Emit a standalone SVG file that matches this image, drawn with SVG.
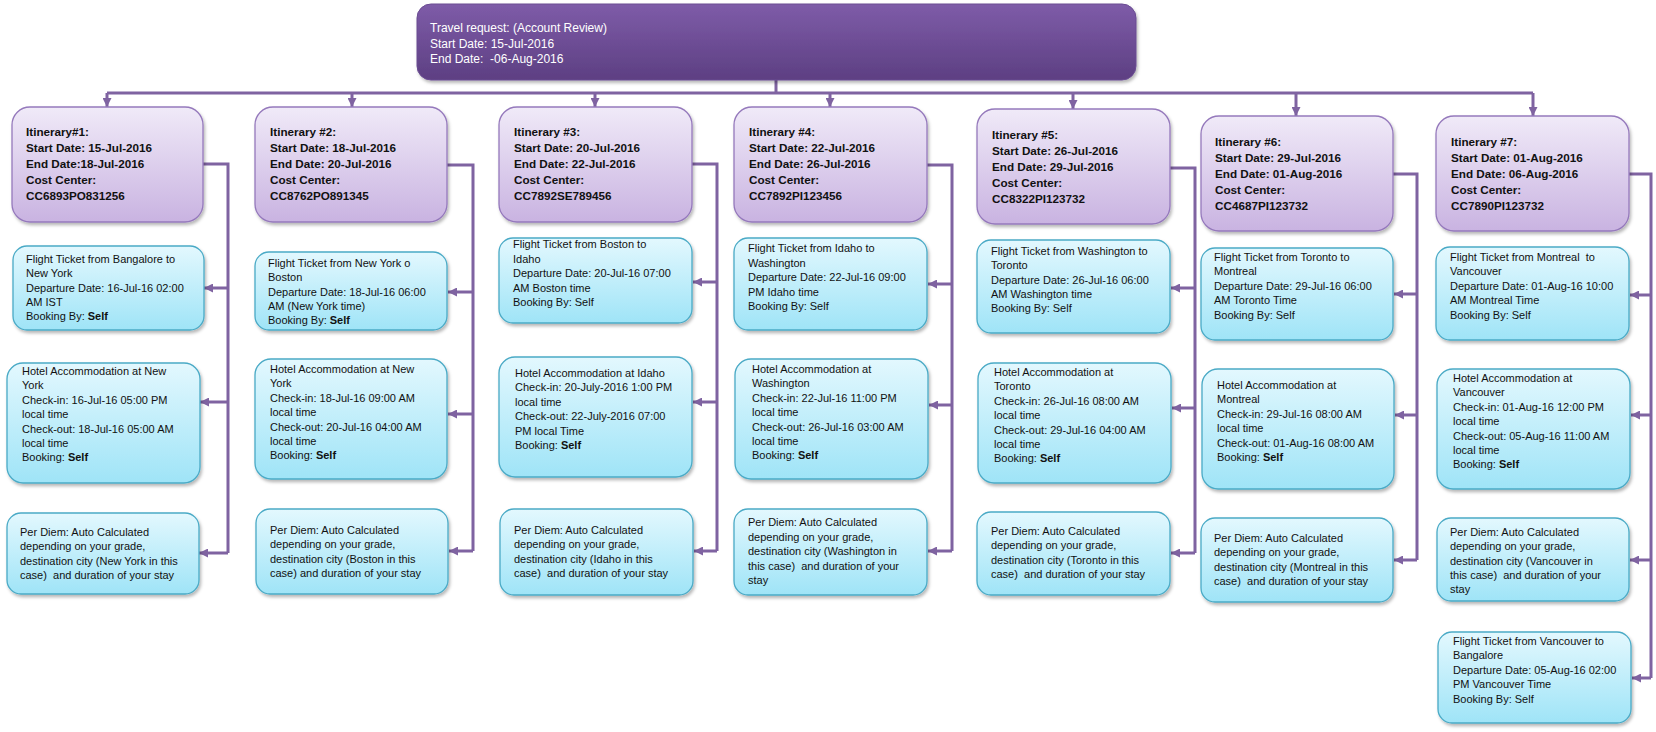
<svg xmlns="http://www.w3.org/2000/svg" width="1656" height="732" viewBox="0 0 1656 732">
<defs>
<linearGradient id="gTop" x1="0" y1="0" x2="0" y2="1"><stop offset="0" stop-color="#7E5CA8"/><stop offset="1" stop-color="#5D3F82"/></linearGradient>
<linearGradient id="gItin" x1="0" y1="0" x2="0" y2="1"><stop offset="0" stop-color="#F0EAF8"/><stop offset="1" stop-color="#C9B3E1"/></linearGradient>
<linearGradient id="gChild" x1="0" y1="0" x2="0" y2="1"><stop offset="0" stop-color="#E3F8FE"/><stop offset="1" stop-color="#9FE4F7"/></linearGradient>
<filter id="sh" x="-10%" y="-10%" width="130%" height="130%"><feDropShadow dx="1.5" dy="2.5" stdDeviation="1.8" flood-color="#000" flood-opacity="0.28"/></filter>
<marker id="ah" viewBox="0 0 10 10" refX="10" refY="5" markerWidth="9" markerHeight="9" markerUnits="userSpaceOnUse" orient="auto"><path d="M0,0 L10,5 L0,10 z" fill="#7F63A1"/></marker>
</defs>
<style>
.top{fill:url(#gTop);stroke:#6A4C92;stroke-width:1;filter:url(#sh)}
.itin{fill:url(#gItin);stroke:#9579BC;stroke-width:1.3;filter:url(#sh)}
.child{fill:url(#gChild);stroke:#4AAAC6;stroke-width:1.3;filter:url(#sh)}
text{font-family:"Liberation Sans",Arial,sans-serif;fill:#111}
.tt{font-size:12px;fill:#fff}
.bt{font-size:11.7px;font-weight:bold}
.ct{font-size:11px}
.b{font-weight:bold}
.con path{fill:none;stroke:#7F63A1;stroke-width:3}
.con .ar{marker-end:url(#ah)}
</style>

<g class="con" id="connectors">
<path d="M776,80 V93"/>
<path d="M107,93 H1533"/>
<path class="ar" d="M107,93 V107"/>
<path class="ar" d="M352,93 V107"/>
<path class="ar" d="M595,93 V107"/>
<path class="ar" d="M830,93 V107"/>
<path class="ar" d="M1073,93 V109"/>
<path class="ar" d="M1296,93 V116"/>
<path class="ar" d="M1533,93 V116"/>

<path d="M203,164 H228 V553"/>
<path class="ar" d="M228,288 H204"/>
<path class="ar" d="M228,402 H200"/>
<path class="ar" d="M228,553 H199"/>

<path d="M447,165 H473 V551"/>
<path class="ar" d="M473,292 H448"/>
<path class="ar" d="M473,414 H448"/>
<path class="ar" d="M473,551 H449"/>

<path d="M692,164 H717 V551"/>
<path class="ar" d="M717,282 H693"/>
<path class="ar" d="M717,402 H693"/>
<path class="ar" d="M717,551 H694"/>

<path d="M927,165 H952 V551"/>
<path class="ar" d="M952,284 H928"/>
<path class="ar" d="M952,405 H929"/>
<path class="ar" d="M952,551 H928"/>

<path d="M1170,168 H1195 V553"/>
<path class="ar" d="M1195,288 H1171"/>
<path class="ar" d="M1195,408 H1172"/>
<path class="ar" d="M1195,553 H1171"/>

<path d="M1393,174 H1417 V560"/>
<path class="ar" d="M1417,294 H1394"/>
<path class="ar" d="M1417,415 H1395"/>
<path class="ar" d="M1417,560 H1394"/>

<path d="M1629,174 H1651 V678"/>
<path class="ar" d="M1651,295 H1630"/>
<path class="ar" d="M1651,415 H1631"/>
<path class="ar" d="M1651,560 H1630"/>
<path class="ar" d="M1651,678 H1632"/>
</g>

<g id="travel-request">
<rect class="top" x="417" y="4" width="719" height="76" rx="14"/>
<text class="tt" x="430" y="32" xml:space="preserve"><tspan x="430">Travel request: (Account Review)</tspan><tspan x="430" dy="15.7">Start Date: 15-Jul-2016</tspan><tspan x="430" dy="15.7">End Date:  -06-Aug-2016</tspan></text>
</g>

<g id="itinerary-1">
<rect class="itin" x="12" y="107" width="191" height="115" rx="18"/>
<text class="bt" x="26" y="136"><tspan x="26">Itinerary#1:</tspan><tspan x="26" dy="16">Start Date: 15-Jul-2016</tspan><tspan x="26" dy="16">End Date:18-Jul-2016</tspan><tspan x="26" dy="16">Cost Center:</tspan><tspan x="26" dy="16">CC6893PO831256</tspan></text>
</g>
<g id="itinerary-2">
<rect class="itin" x="255" y="107" width="192" height="115" rx="18"/>
<text class="bt" x="270" y="136"><tspan x="270">Itinerary #2:</tspan><tspan x="270" dy="16">Start Date: 18-Jul-2016</tspan><tspan x="270" dy="16">End Date: 20-Jul-2016</tspan><tspan x="270" dy="16">Cost Center:</tspan><tspan x="270" dy="16">CC8762PO891345</tspan></text>
</g>
<g id="itinerary-3">
<rect class="itin" x="499" y="107" width="193" height="115" rx="18"/>
<text class="bt" x="514" y="136"><tspan x="514">Itinerary #3:</tspan><tspan x="514" dy="16">Start Date: 20-Jul-2016</tspan><tspan x="514" dy="16">End Date: 22-Jul-2016</tspan><tspan x="514" dy="16">Cost Center:</tspan><tspan x="514" dy="16">CC7892SE789456</tspan></text>
</g>
<g id="itinerary-4">
<rect class="itin" x="734" y="107" width="193" height="115" rx="18"/>
<text class="bt" x="749" y="136"><tspan x="749">Itinerary #4:</tspan><tspan x="749" dy="16">Start Date: 22-Jul-2016</tspan><tspan x="749" dy="16">End Date: 26-Jul-2016</tspan><tspan x="749" dy="16">Cost Center:</tspan><tspan x="749" dy="16">CC7892PI123456</tspan></text>
</g>
<g id="itinerary-5">
<rect class="itin" x="977" y="109" width="193" height="115" rx="18"/>
<text class="bt" x="992" y="139"><tspan x="992">Itinerary #5:</tspan><tspan x="992" dy="16">Start Date: 26-Jul-2016</tspan><tspan x="992" dy="16">End Date: 29-Jul-2016</tspan><tspan x="992" dy="16">Cost Center:</tspan><tspan x="992" dy="16">CC8322PI123732</tspan></text>
</g>
<g id="itinerary-6">
<rect class="itin" x="1201" y="116" width="192" height="115" rx="18"/>
<text class="bt" x="1215" y="146"><tspan x="1215">Itinerary #6:</tspan><tspan x="1215" dy="16">Start Date: 29-Jul-2016</tspan><tspan x="1215" dy="16">End Date: 01-Aug-2016</tspan><tspan x="1215" dy="16">Cost Center:</tspan><tspan x="1215" dy="16">CC4687PI123732</tspan></text>
</g>
<g id="itinerary-7">
<rect class="itin" x="1436" y="116" width="193" height="115" rx="18"/>
<text class="bt" x="1451" y="146"><tspan x="1451">Itinerary #7:</tspan><tspan x="1451" dy="16">Start Date: 01-Aug-2016</tspan><tspan x="1451" dy="16">End Date: 06-Aug-2016</tspan><tspan x="1451" dy="16">Cost Center:</tspan><tspan x="1451" dy="16">CC7890PI123732</tspan></text>
</g>

<g id="flight-1">
<rect class="child" x="13" y="246" width="191" height="84" rx="14"/>
<text class="ct" x="26" y="263"><tspan x="26">Flight Ticket from Bangalore to</tspan><tspan x="26" dy="14.3">New York</tspan><tspan x="26" dy="14.3">Departure Date: 16-Jul-16 02:00</tspan><tspan x="26" dy="14.3">AM IST</tspan><tspan x="26" dy="14.3">Booking By: <tspan class="b">Self</tspan></tspan></text>
</g>
<g id="hotel-1">
<rect class="child" x="7" y="363" width="193" height="120" rx="16"/>
<text class="ct" x="22" y="375"><tspan x="22">Hotel Accommodation at New</tspan><tspan x="22" dy="14.4">York</tspan><tspan x="22" dy="14.4">Check-in: 16-Jul-16 05:00 PM</tspan><tspan x="22" dy="14.4">local time</tspan><tspan x="22" dy="14.4">Check-out: 18-Jul-16 05:00 AM</tspan><tspan x="22" dy="14.4">local time</tspan><tspan x="22" dy="14.4">Booking: <tspan class="b">Self</tspan></tspan></text>
</g>
<g id="perdiem-1">
<rect class="child" x="7" y="513" width="192" height="81" rx="14"/>
<text class="ct" x="20" y="536"><tspan x="20">Per Diem: Auto Calculated</tspan><tspan x="20" dy="14.3">depending on your grade,</tspan><tspan x="20" dy="14.3">destination city (New York in this</tspan><tspan x="20" dy="14.3" xml:space="preserve">case)  and duration of your stay</tspan></text>
</g>

<g id="flight-2">
<rect class="child" x="255" y="252" width="192" height="78" rx="14"/>
<text class="ct" x="268" y="267"><tspan x="268">Flight Ticket from New York o</tspan><tspan x="268" dy="14.3">Boston</tspan><tspan x="268" dy="14.3">Departure Date: 18-Jul-16 06:00</tspan><tspan x="268" dy="14.3">AM (New York time)</tspan><tspan x="268" dy="14.3">Booking By: <tspan class="b">Self</tspan></tspan></text>
</g>
<g id="hotel-2">
<rect class="child" x="255" y="359" width="192" height="120" rx="16"/>
<text class="ct" x="270" y="373"><tspan x="270">Hotel Accommodation at New</tspan><tspan x="270" dy="14.4">York</tspan><tspan x="270" dy="14.4">Check-in: 18-Jul-16 09:00 AM</tspan><tspan x="270" dy="14.4">local time</tspan><tspan x="270" dy="14.4">Check-out: 20-Jul-16 04:00 AM</tspan><tspan x="270" dy="14.4">local time</tspan><tspan x="270" dy="14.4">Booking: <tspan class="b">Self</tspan></tspan></text>
</g>
<g id="perdiem-2">
<rect class="child" x="256" y="509" width="192" height="85" rx="14"/>
<text class="ct" x="270" y="534"><tspan x="270">Per Diem: Auto Calculated</tspan><tspan x="270" dy="14.3">depending on your grade,</tspan><tspan x="270" dy="14.3">destination city (Boston in this</tspan><tspan x="270" dy="14.3">case) and duration of your stay</tspan></text>
</g>

<g id="flight-3">
<rect class="child" x="499" y="238" width="193" height="85" rx="14"/>
<text class="ct" x="513" y="248"><tspan x="513">Flight Ticket from Boston to</tspan><tspan x="513" dy="14.5">Idaho</tspan><tspan x="513" dy="14.5">Departure Date: 20-Jul-16 07:00</tspan><tspan x="513" dy="14.5">AM Boston time</tspan><tspan x="513" dy="14.5">Booking By: Self</tspan></text>
</g>
<g id="hotel-3">
<rect class="child" x="499" y="357" width="193" height="120" rx="16"/>
<text class="ct" x="515" y="377"><tspan x="515">Hotel Accommodation at Idaho</tspan><tspan x="515" dy="14.4">Check-in: 20-July-2016 1:00 PM</tspan><tspan x="515" dy="14.4">local time</tspan><tspan x="515" dy="14.4">Check-out: 22-July-2016 07:00</tspan><tspan x="515" dy="14.4">PM local Time</tspan><tspan x="515" dy="14.4">Booking: <tspan class="b">Self</tspan></tspan></text>
</g>
<g id="perdiem-3">
<rect class="child" x="500" y="509" width="193" height="86" rx="14"/>
<text class="ct" x="514" y="534"><tspan x="514">Per Diem: Auto Calculated</tspan><tspan x="514" dy="14.3">depending on your grade,</tspan><tspan x="514" dy="14.3">destination city (Idaho in this</tspan><tspan x="514" dy="14.3" xml:space="preserve">case)  and duration of your stay</tspan></text>
</g>

<g id="flight-4">
<rect class="child" x="734" y="238" width="193" height="92" rx="14"/>
<text class="ct" x="748" y="252"><tspan x="748">Flight Ticket from Idaho to</tspan><tspan x="748" dy="14.5">Washington</tspan><tspan x="748" dy="14.5">Departure Date: 22-Jul-16 09:00</tspan><tspan x="748" dy="14.5">PM Idaho time</tspan><tspan x="748" dy="14.5">Booking By: Self</tspan></text>
</g>
<g id="hotel-4">
<rect class="child" x="735" y="359" width="193" height="120" rx="16"/>
<text class="ct" x="752" y="373"><tspan x="752">Hotel Accommodation at</tspan><tspan x="752" dy="14.4">Washington</tspan><tspan x="752" dy="14.4">Check-in: 22-Jul-16 11:00 PM</tspan><tspan x="752" dy="14.4">local time</tspan><tspan x="752" dy="14.4">Check-out: 26-Jul-16 03:00 AM</tspan><tspan x="752" dy="14.4">local time</tspan><tspan x="752" dy="14.4">Booking: <tspan class="b">Self</tspan></tspan></text>
</g>
<g id="perdiem-4">
<rect class="child" x="734" y="509" width="193" height="86" rx="14"/>
<text class="ct" x="748" y="526"><tspan x="748">Per Diem: Auto Calculated</tspan><tspan x="748" dy="14.5">depending on your grade,</tspan><tspan x="748" dy="14.5">destination city (Washington in</tspan><tspan x="748" dy="14.5" xml:space="preserve">this case)  and duration of your</tspan><tspan x="748" dy="14.5">stay</tspan></text>
</g>

<g id="flight-5">
<rect class="child" x="977" y="240" width="193" height="93" rx="14"/>
<text class="ct" x="991" y="255"><tspan x="991">Flight Ticket from Washington to</tspan><tspan x="991" dy="14.3">Toronto</tspan><tspan x="991" dy="14.3">Departure Date: 26-Jul-16 06:00</tspan><tspan x="991" dy="14.3">AM Washington time</tspan><tspan x="991" dy="14.3">Booking By: Self</tspan></text>
</g>
<g id="hotel-5">
<rect class="child" x="978" y="363" width="193" height="120" rx="16"/>
<text class="ct" x="994" y="376"><tspan x="994">Hotel Accommodation at</tspan><tspan x="994" dy="14.4">Toronto</tspan><tspan x="994" dy="14.4">Check-in: 26-Jul-16 08:00 AM</tspan><tspan x="994" dy="14.4">local time</tspan><tspan x="994" dy="14.4">Check-out: 29-Jul-16 04:00 AM</tspan><tspan x="994" dy="14.4">local time</tspan><tspan x="994" dy="14.4">Booking: <tspan class="b">Self</tspan></tspan></text>
</g>
<g id="perdiem-5">
<rect class="child" x="977" y="512" width="193" height="83" rx="14"/>
<text class="ct" x="991" y="535"><tspan x="991">Per Diem: Auto Calculated</tspan><tspan x="991" dy="14.3">depending on your grade,</tspan><tspan x="991" dy="14.3">destination city (Toronto in this</tspan><tspan x="991" dy="14.3" xml:space="preserve">case)  and duration of your stay</tspan></text>
</g>

<g id="flight-6">
<rect class="child" x="1201" y="248" width="192" height="92" rx="14"/>
<text class="ct" x="1214" y="261"><tspan x="1214">Flight Ticket from Toronto to</tspan><tspan x="1214" dy="14.4">Montreal</tspan><tspan x="1214" dy="14.4">Departure Date: 29-Jul-16 06:00</tspan><tspan x="1214" dy="14.4">AM Toronto Time</tspan><tspan x="1214" dy="14.4">Booking By: Self</tspan></text>
</g>
<g id="hotel-6">
<rect class="child" x="1202" y="369" width="192" height="120" rx="16"/>
<text class="ct" x="1217" y="389"><tspan x="1217">Hotel Accommodation at</tspan><tspan x="1217" dy="14.4">Montreal</tspan><tspan x="1217" dy="14.4">Check-in: 29-Jul-16 08:00 AM</tspan><tspan x="1217" dy="14.4">local time</tspan><tspan x="1217" dy="14.4">Check-out: 01-Aug-16 08:00 AM</tspan><tspan x="1217" dy="14.4">Booking: <tspan class="b">Self</tspan></tspan></text>
</g>
<g id="perdiem-6">
<rect class="child" x="1201" y="518" width="192" height="84" rx="14"/>
<text class="ct" x="1214" y="542"><tspan x="1214">Per Diem: Auto Calculated</tspan><tspan x="1214" dy="14.3">depending on your grade,</tspan><tspan x="1214" dy="14.3">destination city (Montreal in this</tspan><tspan x="1214" dy="14.3" xml:space="preserve">case)  and duration of your stay</tspan></text>
</g>

<g id="flight-7">
<rect class="child" x="1436" y="247" width="193" height="93" rx="14"/>
<text class="ct" x="1450" y="261"><tspan x="1450" xml:space="preserve">Flight Ticket from Montreal  to</tspan><tspan x="1450" dy="14.4">Vancouver</tspan><tspan x="1450" dy="14.4">Departure Date: 01-Aug-16 10:00</tspan><tspan x="1450" dy="14.4">AM Montreal Time</tspan><tspan x="1450" dy="14.4">Booking By: Self</tspan></text>
</g>
<g id="hotel-7">
<rect class="child" x="1437" y="369" width="193" height="120" rx="16"/>
<text class="ct" x="1453" y="382"><tspan x="1453">Hotel Accommodation at</tspan><tspan x="1453" dy="14.4">Vancouver</tspan><tspan x="1453" dy="14.4">Check-in: 01-Aug-16 12:00 PM</tspan><tspan x="1453" dy="14.4">local time</tspan><tspan x="1453" dy="14.4">Check-out: 05-Aug-16 11:00 AM</tspan><tspan x="1453" dy="14.4">local time</tspan><tspan x="1453" dy="14.4">Booking: <tspan class="b">Self</tspan></tspan></text>
</g>
<g id="perdiem-7">
<rect class="child" x="1437" y="518" width="192" height="83" rx="14"/>
<text class="ct" x="1450" y="536"><tspan x="1450">Per Diem: Auto Calculated</tspan><tspan x="1450" dy="14.3">depending on your grade,</tspan><tspan x="1450" dy="14.3">destination city (Vancouver in</tspan><tspan x="1450" dy="14.3" xml:space="preserve">this case)  and duration of your</tspan><tspan x="1450" dy="14.3">stay</tspan></text>
</g>
<g id="flight-8">
<rect class="child" x="1438" y="632" width="193" height="91" rx="14"/>
<text class="ct" x="1453" y="645"><tspan x="1453">Flight Ticket from Vancouver to</tspan><tspan x="1453" dy="14.4">Bangalore</tspan><tspan x="1453" dy="14.4">Departure Date: 05-Aug-16 02:00</tspan><tspan x="1453" dy="14.4">PM Vancouver Time</tspan><tspan x="1453" dy="14.4">Booking By: Self</tspan></text>
</g>
</svg>
